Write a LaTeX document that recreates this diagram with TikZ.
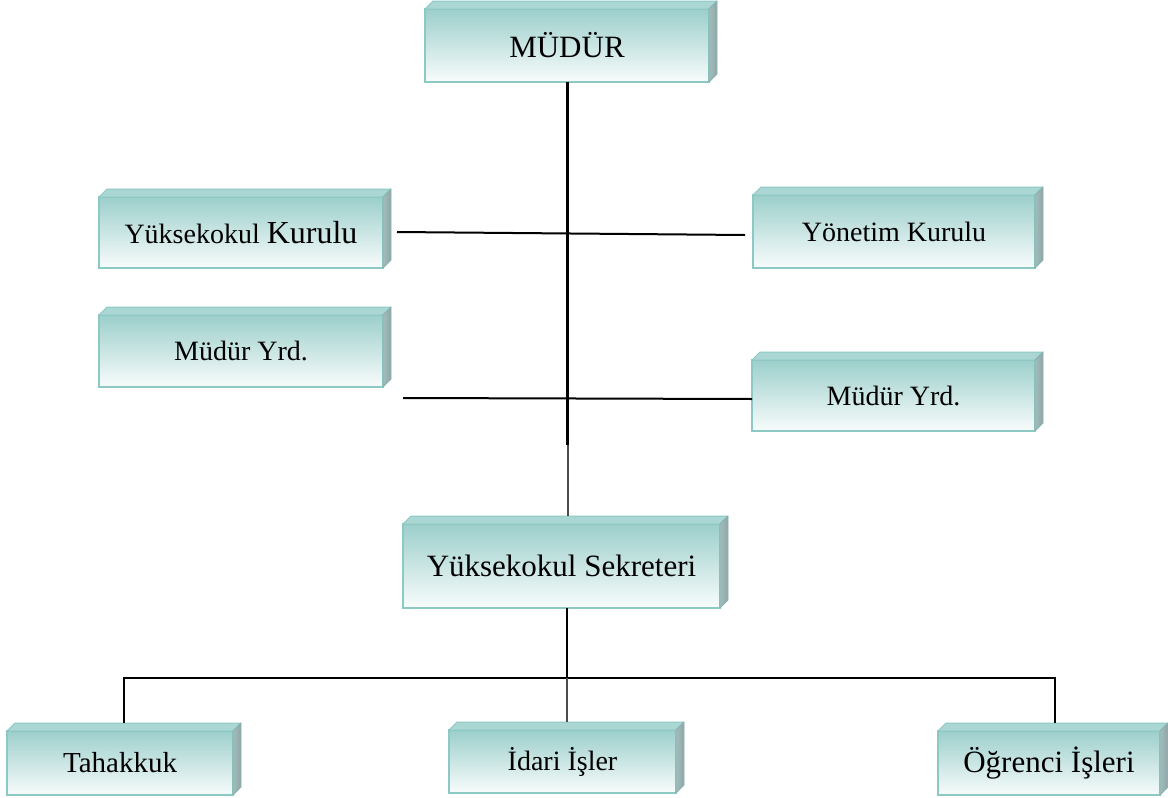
\documentclass[tikz,border=0pt]{standalone}
\usepackage{fontspec}
\setmainfont{Liberation Serif}
\definecolor{bord}{RGB}{140,200,196}
\definecolor{topc}{RGB}{156,207,203}
\definecolor{botc}{RGB}{248,252,252}
\definecolor{lidc}{RGB}{170,215,211}
\definecolor{sidel}{RGB}{160,190,188}
\definecolor{sider}{RGB}{145,165,165}
\begin{document}
\begin{tikzpicture}[x=1pt,y=-1pt,
  box/.style={draw=bord, line width=1.6pt, top color=topc, bottom color=botc,
    inner sep=0pt, outer sep=0pt, font=\fontsize{28}{32}\selectfont, text=black},
  lid/.style={fill=lidc, draw=bord, line width=1pt, line join=round},
  side/.style={left color=sidel, right color=sider, draw=bord!70!gray, line width=0.8pt, line join=round},
  conn/.style={line width=2pt, black},
  thick conn/.style={line width=3pt, black},
  gray conn/.style={line width=2.2pt, black!70}]
\useasboundingbox (0,0) rectangle (1168,798);
\newcommand\bevelbox[6]{%
  \node[box, minimum width={#4-#2}, minimum height={#5-#3}] (#1) at ({(#2+#4)/2},{(#3+#5)/2}) {#6};
  \path[lid] (#1.north west) -- ++(8,-8) -- ([shift={(8,-8)}]#1.north east) -- (#1.north east) -- cycle;
  \path[side] (#1.north east) -- ++(8,-8) -- ([shift={(8,-8)}]#1.south east) -- (#1.south east) -- cycle;
}
\bevelbox{mud}{425}{9}{709}{82}{\fontsize{31}{34}\selectfont MÜDÜR}
\bevelbox{yk}{99}{197}{383}{268}{Yüksekokul {\fontsize{32}{36}\selectfont Kurulu}}
\bevelbox{yon}{753}{195}{1035}{268}{Yönetim Kurulu}
\bevelbox{my1}{99}{315}{383}{387}{Müdür Yrd.}
\bevelbox{my2}{752}{360}{1035}{431}{Müdür Yrd.}
\bevelbox{sek}{403}{524}{720}{608}{\fontsize{31}{34}\selectfont Yüksekokul Sekreteri}
\bevelbox{tah}{7}{731}{233}{795}{\fontsize{29}{32}\selectfont Tahakkuk}
\bevelbox{ida}{449}{730}{676}{793}{İdari İşler}
\bevelbox{ogr}{938}{731}{1160}{795}{\fontsize{31}{34}\selectfont Öğrenci İşleri}
% connectors
\coordinate (mudb) at (567,82);
\coordinate (j1) at (567,445);
\coordinate (sektop) at (568,516);
\draw[thick conn] (mudb) -- (j1);
\draw[gray conn] (568,445) -- (sektop);
\coordinate (ykr) at (397,232);
\coordinate (yonl) at (745,235);
\draw[conn] (ykr) -- (yonl);
\coordinate (myl) at (403,398);
\draw[conn] (myl) -- (my2.west |- 0,399);
\coordinate (sekb) at (567,608);
\coordinate (bus) at (567,678);
\coordinate (tahtop) at (124,723);
\coordinate (idatop) at (567,722);
\coordinate (ogrtop) at (1055,723);
\draw[conn] (sekb) -- (bus);
\draw[conn] (tahtop) |- (ogrtop |- bus) -- (ogrtop);
\draw[gray conn] (bus) -- (idatop);
\end{tikzpicture}
\end{document}
